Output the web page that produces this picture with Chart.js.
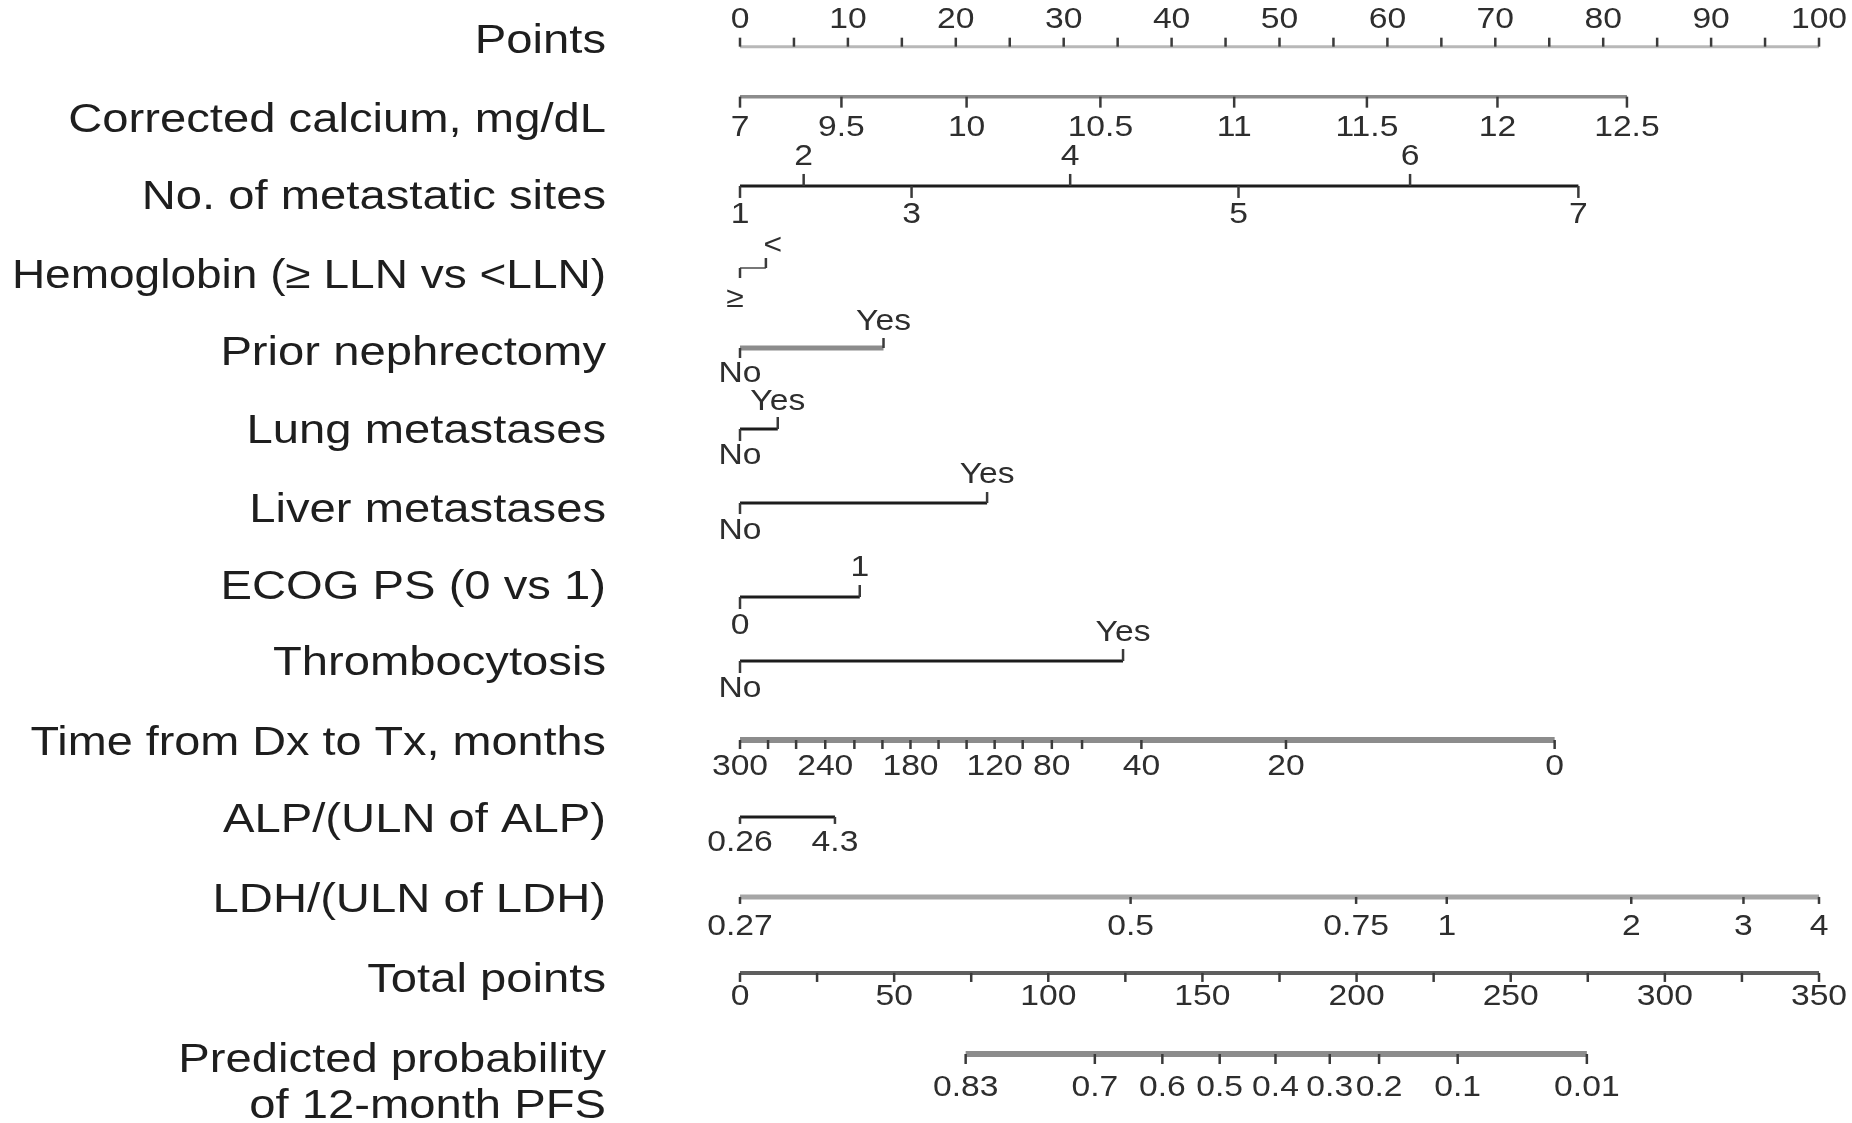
<!DOCTYPE html>
<html>
<head>
<meta charset="utf-8">
<script src="https://cdn.jsdelivr.net/npm/chart.js@4.4.1/dist/chart.umd.min.js"></script>
<style>
html,body{margin:0;padding:0;background:#ffffff;}
#wrap{width:1852px;height:1123px;position:relative;}
</style>
</head>
<body>
<div id="wrap"><canvas id="c"></canvas></div>
<script>
// ---------------- DATA ----------------
const rowTitles = [
  ['Points'],
  ['Corrected calcium, mg/dL'],
  ['No. of metastatic sites'],
  ['Hemoglobin (\u2265 LLN vs <LLN)'],
  ['Prior nephrectomy'],
  ['Lung metastases'],
  ['Liver metastases'],
  ['ECOG PS (0 vs 1)'],
  ['Thrombocytosis'],
  ['Time from Dx to Tx, months'],
  ['ALP/(ULN of ALP)'],
  ['LDH/(ULN of LDH)'],
  ['Total points'],
  ['Predicted probability', 'of 12-month PFS']
];

const pointsTicks  = [0,5,10,15,20,25,30,35,40,45,50,55,60,65,70,75,80,85,90,95,100];
const pointsLabels = ['0','','10','','20','','30','','40','','50','','60','','70','','80','','90','','100'];

const calciumLevels = ['7','9.5','10','10.5','11','11.5','12','12.5'];
const calciumPoints = [0, 9.4, 21.0, 33.4, 45.8, 58.1, 70.2, 82.2];

const metSites       = ['1','2','3','4','5','6','7'];
const metSitesPoints = [0, 5.9, 15.9, 30.6, 46.2, 62.1, 77.7];

const hemoglobinLevels = ['\u2265', '<'];
const hemoglobinPoints = [0, 2.4];

const nephrectomyLevels = ['No','Yes'];
const nephrectomyPoints = [0, 13.3];

const lungLevels = ['No','Yes'];
const lungPoints = [0, 3.5];

const liverLevels = ['No','Yes'];
const liverPoints = [0, 22.9];

const ecogLevels = ['0','1'];
const ecogPoints = [0, 11.1];

const thrombLevels = ['No','Yes'];
const thrombPoints = [0, 35.5];

const timeMonths  = [300,280,260,240,220,200,180,160,140,120,100,80,60,40,20,0];
const timePoints  = [0, 2.6, 5.2, 7.9, 10.6, 13.2, 15.8, 18.4, 21.0, 23.6, 26.2, 28.9, 31.7, 37.2, 50.6, 75.5];
const timeLabels  = ['300','','','240','','','180','','','120','','80','','40','20','0'];

const alpLevels = ['0.26','4.3'];
const alpPoints = [0, 8.8];

const ldhLevels = ['0.27','0.5','0.75','1','2','3','4'];
const ldhPoints = [0, 36.2, 57.1, 65.5, 82.6, 93.0, 100];

const totalTicks  = [0,25,50,75,100,125,150,175,200,225,250,275,300,325,350];
const totalLabels = ['0','','50','','100','','150','','200','','250','','300','','350'];

const probLevels      = ['0.83','0.7','0.6','0.5','0.4','0.3','0.2','0.1','0.01'];
const probTotalPoints = [73.2, 115.1, 137.0, 155.6, 173.7, 191.3, 207.3, 232.8, 274.7];

// ---------------- LAYOUT / STYLE ----------------
const GRAY = '#8c8c8c', BLACK = '#1c1c1c';
const rows = [
  {axis:'x',  yLine:0.085,  vals:pointsTicks,   labels:pointsLabels,   side:'up',   color:'#b8b8b8', width:3, gap:27, tl:9},
  {axis:'x',  yLine:0.721,  vals:calciumPoints, labels:calciumLevels,  side:'down', color:GRAY, width:3.5, gap:31, tl:11},
  {axis:'x',  yLine:1.857,  vals:metSitesPoints,labels:metSites,       side:['down','up','down','up','down','up','down'], color:BLACK, width:3, gap:29, tl:12},
  {axis:'x',  yLine:2.901,  vals:hemoglobinPoints, labels:hemoglobinLevels, side:['down','up'], color:'#777777', width:2, gap:0, tl:10, small:true},
  {axis:'x',  yLine:3.919,  vals:nephrectomyPoints,labels:nephrectomyLevels, side:['down','up'], color:GRAY, width:5, gap:26, tl:10},
  {axis:'x',  yLine:4.949,  vals:lungPoints,    labels:lungLevels,     side:['down','up'], color:BLACK, width:3, gap:27, tl:12},
  {axis:'x',  yLine:5.891,  vals:liverPoints,   labels:liverLevels,    side:['down','up'], color:BLACK, width:3, gap:28, tl:11},
  {axis:'x',  yLine:7.087,  vals:ecogPoints,    labels:ecogLevels,     side:['down','up'], color:BLACK, width:3, gap:29, tl:12},
  {axis:'x',  yLine:7.901,  vals:thrombPoints,  labels:thrombLevels,   side:['down','up'], color:BLACK, width:3, gap:28, tl:12},
  {axis:'x',  yLine:8.906,  vals:timePoints,    labels:timeLabels,     side:'down', color:GRAY, width:6, gap:27, tl:9},
  {axis:'x',  yLine:9.885,  vals:alpPoints,     labels:alpLevels,      side:'down', color:BLACK, width:3, gap:26, tl:7},
  {axis:'x',  yLine:10.903, vals:ldhPoints,     labels:ldhLevels,      side:'down', color:'#a6a6a6', width:5, gap:30, tl:7},
  {axis:'xt', yLine:11.870, vals:totalTicks,    labels:totalLabels,    side:'down', color:'#5e5e5e', width:4, gap:24, tl:9},
  {axis:'xt', yLine:12.901, vals:probTotalPoints, labels:probLevels,   side:'down', color:GRAY, width:6, gap:34, tl:10}
];
const titleRowY = [0.03, 1.03, 2.005, 3.015, 4.0, 4.985, 5.995, 6.97, 7.94, 8.955, 9.94, 10.955, 11.97, 12.99];
const titleStretch = [1.18, 1.18, 1.18, 1.15, 1.18, 1.18, 1.18, 1.18, 1.18, 1.17, 1.18, 1.18, 1.18, 1.18];
const secondLineOffset = 0.58;

const TICK_STRETCH = 1.16;
const TITLE_FONT = '40px "Liberation Sans", Arial, sans-serif';
const TICK_FONT  = '29px "Liberation Sans", Arial, sans-serif';

const datasets = rows.map(r => ({
  data: [{x: Math.min(...r.vals), y: r.yLine}, {x: Math.max(...r.vals), y: r.yLine}],
  xAxisID: r.axis, yAxisID: 'y',
  showLine: true, borderColor: r.color, borderWidth: r.width,
  pointRadius: 0, fill: false, borderCapStyle: 'butt'
}));

function stretchedText(ctx, txt, x, y, align, s) {
  ctx.save();
  ctx.translate(x, y);
  ctx.scale(s, 1);
  ctx.textAlign = align;
  ctx.fillText(txt, 0, 0);
  ctx.restore();
}

const nomogramPlugin = {
  id: 'nomogram',
  afterDatasetsDraw(chart) {
    const ctx = chart.ctx;
    const ys = chart.scales.y;
    ctx.save();
    rows.forEach(r => {
      const sc = chart.scales[r.axis];
      const py = ys.getPixelForValue(r.yLine);
      r.vals.forEach((v, i) => {
        const px = sc.getPixelForValue(v);
        const side = Array.isArray(r.side) ? r.side[i] : r.side;
        const dir = side === 'up' ? -1 : 1;
        ctx.strokeStyle = '#3a3a3a';
        ctx.lineWidth = 2.5;
        ctx.beginPath();
        ctx.moveTo(px, py);
        ctx.lineTo(px, py + dir * r.tl);
        ctx.stroke();
        const lab = r.labels[i];
        if (!lab) return;
        ctx.fillStyle = '#2e2e2e';
        ctx.font = TICK_FONT;
        ctx.textBaseline = 'middle';
        if (r.small) {
          stretchedText(ctx, lab, px + (dir > 0 ? -5 : 7), py + (dir > 0 ? 31 : -22), 'center', 1.1);
        } else {
          stretchedText(ctx, lab, px, py + dir * r.gap, 'center', TICK_STRETCH);
        }
      });
    });
    ctx.fillStyle = '#1e1e1e';
    ctx.font = TITLE_FONT;
    ctx.textBaseline = 'middle';
    const xr = chart.chartArea.left - 134;
    rowTitles.forEach((lines, i) => {
      lines.forEach((t, k) => {
        stretchedText(ctx, t, xr, ys.getPixelForValue(titleRowY[i] + k * secondLineOffset), 'right', titleStretch[i]);
      });
    });
    ctx.restore();
  }
};

new Chart(document.getElementById('c'), {
  type: 'scatter',
  data: { datasets },
  options: {
    responsive: true,
    maintainAspectRatio: false,
    animation: false,
    layout: { padding: { left: 740, right: 33, top: 0, bottom: 0 } },
    plugins: { legend: { display: false }, tooltip: { enabled: false } },
    scales: {
      x:  { type: 'linear', min: 0, max: 100, display: false },
      xt: { type: 'linear', min: 0, max: 350, display: false },
      y:  { type: 'linear', min: -0.5089, max: 13.779, reverse: true, display: false }
    }
  },
  plugins: [nomogramPlugin]
});
</script>
</body>
</html>
